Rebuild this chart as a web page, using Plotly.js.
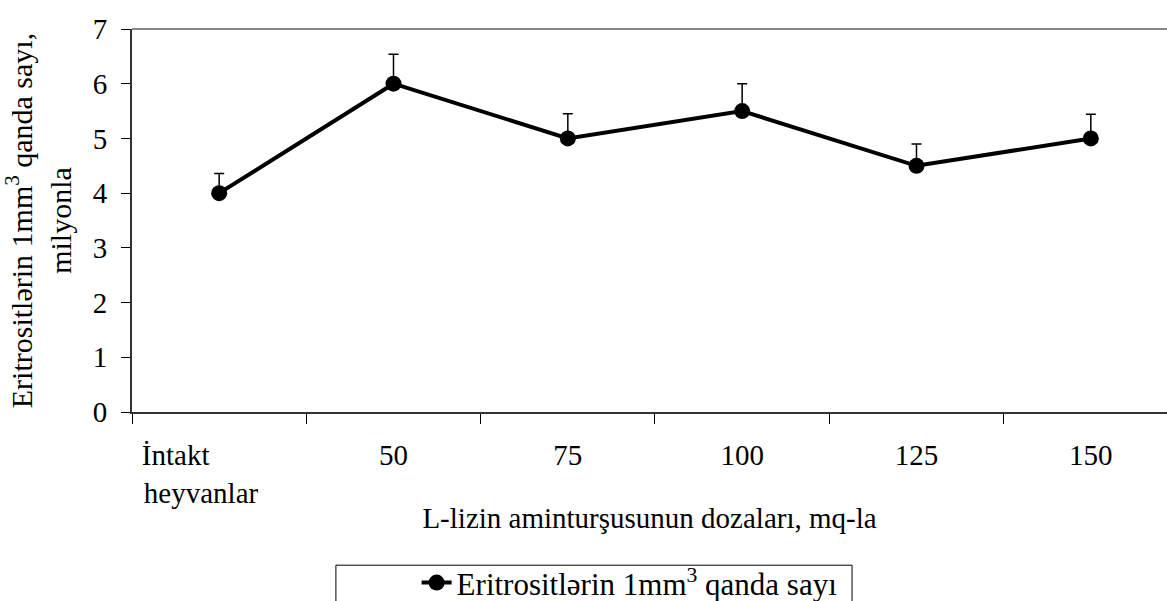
<!DOCTYPE html>
<html>
<head>
<meta charset="utf-8">
<script src="https://cdn.plot.ly/plotly-3.0.1.min.js"></script>
<style>html,body{margin:0;padding:0;background:#fff;}#chart{width:1167px;height:601px;}</style>
</head>
<body>
<div id="chart"></div>
<script>
var categories = ["İntakt&nbsp;&nbsp;&nbsp;&nbsp;&nbsp;&nbsp;&nbsp;&nbsp;&nbsp;&nbsp;&nbsp;&nbsp;<br>heyvanlar&nbsp;&nbsp;&nbsp;&nbsp;&nbsp;", "50", "75", "100", "125", "150"];
var values = [4, 6, 5, 5.5, 4.5, 5];
var errorsPlus = [0.36, 0.54, 0.45, 0.5, 0.4, 0.44];
var seriesName = "Eritrositlərin 1mm<sup>3</sup> qanda sayı";
var yTicks = [0, 1, 2, 3, 4, 5, 6, 7];

var FONT = "Liberation Serif";

var trace = {
  type: "scatter",
  mode: "lines+markers",
  x: categories,
  y: values,
  name: seriesName,
  line: {color: "#000", width: 4},
  marker: {color: "#000", size: 16, symbol: "circle"},
  error_y: {type: "data", symmetric: false, array: errorsPlus, arrayminus: values.map(function(){return 0;}), color: "#000", thickness: 1.5, width: 5}
};

var layout = {
  width: 1167, height: 601,
  margin: {l: 132, r: 0, t: 29, b: 188.5},
  paper_bgcolor: "#fff", plot_bgcolor: "#fff",
  font: {family: FONT, size: 29, color: "#000"},
  showlegend: true,
  xaxis: {
    type: "category",
    range: [-0.5, 5.437],
    tickson: "boundaries",
    ticks: "outside", ticklen: 10, tickcolor: "#000", tickwidth: 1,
    ticklabelstandoff: 16,
    showline: true, linecolor: "#333", linewidth: 2,
    showgrid: false, zeroline: false,
    tickfont: {family: FONT, size: 29, color: "#000"},
    title: {text: "L-lizin aminturşusunun dozaları, mq-la", font: {family: FONT, size: 29, color: "#000"}, standoff: 0}
  },
  yaxis: {
    range: [0, 7],
    tickvals: yTicks,
    ticks: "outside", ticklen: 9, tickcolor: "#000", tickwidth: 1,
    ticklabelstandoff: 8,
    showline: true, linecolor: "#333", linewidth: 2,
    showgrid: false, zeroline: false,
    tickfont: {family: FONT, size: 29, color: "#000"},
    title: {text: "Eritrositlərin 1mm<sup>3</sup> qanda sayı,<br>milyonla", font: {family: FONT, size: 30, color: "#000"}, standoff: 14}
  },
  legend: {
    orientation: "h",
    xref: "container", yref: "container",
    x: 0.357, xanchor: "left",
    y: 0.075, yanchor: "top",
    bgcolor: "rgba(0,0,0,0)", borderwidth: 0,
    font: {family: FONT, size: 31, color: "#000"}
  },
  shapes: [
    {type: "line", xref: "paper", yref: "paper", x0: 0, x1: 1, y0: 1, y1: 1, line: {color: "#888", width: 2}},
    {type: "rect", xref: "paper", yref: "paper", x0: 0.197, x1: 0.6957, y0: -0.400, y1: -0.52, line: {color: "#000", width: 1}, fillcolor: "rgba(0,0,0,0)"}
  ]
};

Plotly.newPlot("chart", [trace], layout, {displayModeBar: false, staticPlot: true});
</script>
</body>
</html>
